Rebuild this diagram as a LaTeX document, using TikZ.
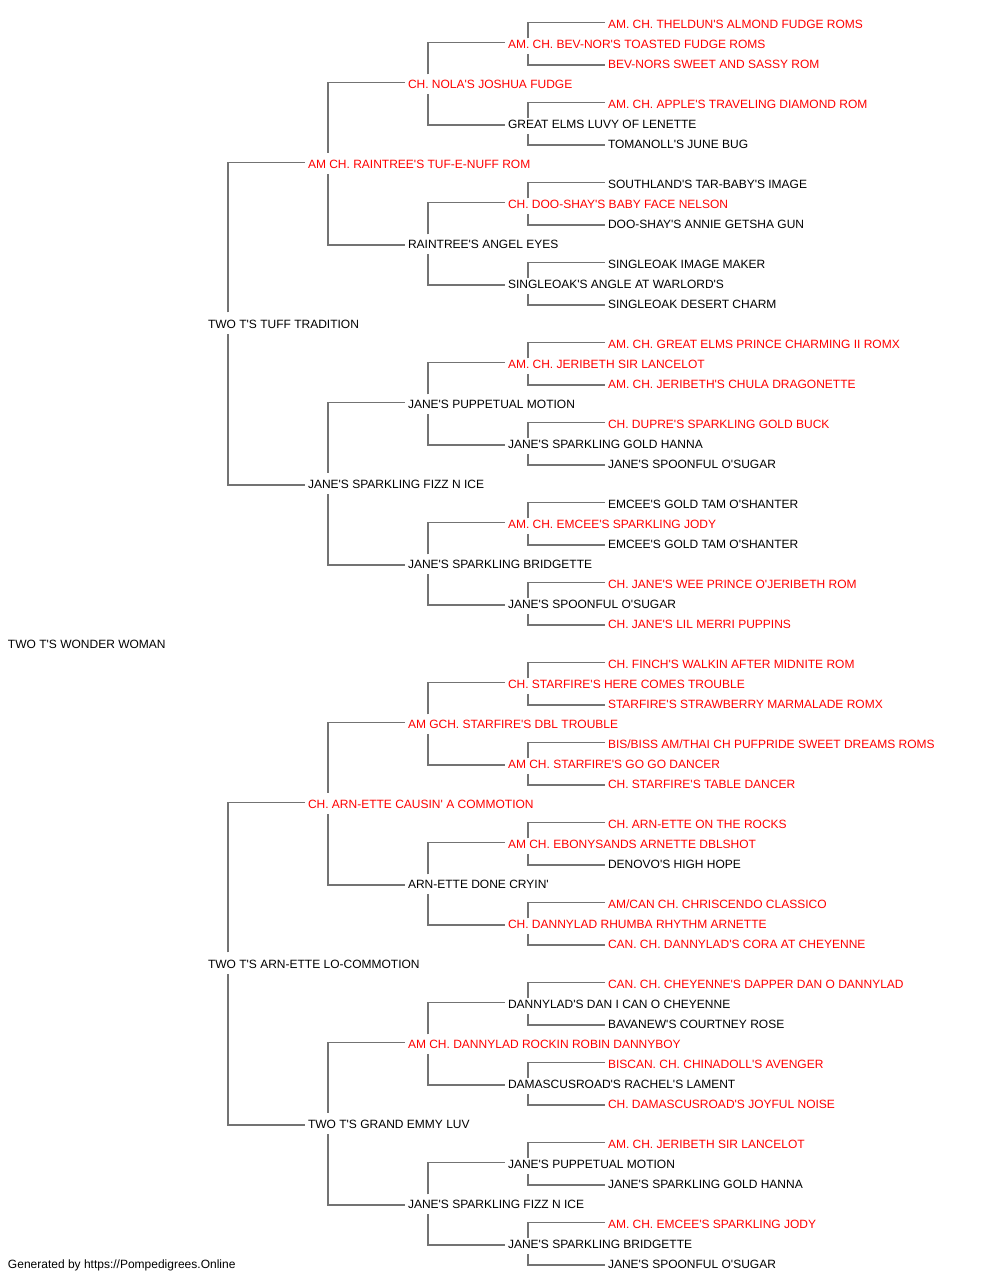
\documentclass[tikz,border=0pt]{standalone}
\usepackage{fontspec}
\setmainfont{Liberation Sans}[Ligatures=TeXOff]
\definecolor{linegray}{RGB}{115,115,115}
\definecolor{chred}{RGB}{255,0,0}
\begin{document}
\begin{tikzpicture}[x=1pt,y=1pt,
  nm/.style={anchor=base west, inner sep=0pt, outer sep=0pt, font=\fontsize{12}{14}\selectfont, text=black},
  ch/.style={nm, text=chred},
  conn/.style={draw=linegray, line width=1.6pt}]
\useasboundingbox[fill=white] (0,0) rectangle (1000,-1280);
% rows
\node[ch] (n0) at (608,-28) {AM. CH. THELDUN'S ALMOND FUDGE ROMS};
\node[ch] (n1) at (508,-48) {AM. CH. BEV-NOR'S TOASTED FUDGE ROMS};
\node[ch] (n2) at (608,-68) {BEV-NORS SWEET AND SASSY ROM};
\node[ch] (n3) at (408,-88) {CH. NOLA'S JOSHUA FUDGE};
\node[ch] (n4) at (608,-108) {AM. CH. APPLE'S TRAVELING DIAMOND ROM};
\node[nm] (n5) at (508,-128) {GREAT ELMS LUVY OF LENETTE};
\node[nm] (n6) at (608,-148) {TOMANOLL'S JUNE BUG};
\node[ch] (n7) at (308,-168) {AM CH. RAINTREE'S TUF-E-NUFF ROM};
\node[nm] (n8) at (608,-188) {SOUTHLAND'S TAR-BABY'S IMAGE};
\node[ch] (n9) at (508,-208) {CH. DOO-SHAY'S BABY FACE NELSON};
\node[nm] (n10) at (608,-228) {DOO-SHAY'S ANNIE GETSHA GUN};
\node[nm] (n11) at (408,-248) {RAINTREE'S ANGEL EYES};
\node[nm] (n12) at (608,-268) {SINGLEOAK IMAGE MAKER};
\node[nm] (n13) at (508,-288) {SINGLEOAK'S ANGLE AT WARLORD'S};
\node[nm] (n14) at (608,-308) {SINGLEOAK DESERT CHARM};
\node[nm] (n15) at (208,-328) {TWO T'S TUFF TRADITION};
\node[ch] (n16) at (608,-348) {AM. CH. GREAT ELMS PRINCE CHARMING II ROMX};
\node[ch] (n17) at (508,-368) {AM. CH. JERIBETH SIR LANCELOT};
\node[ch] (n18) at (608,-388) {AM. CH. JERIBETH'S CHULA DRAGONETTE};
\node[nm] (n19) at (408,-408) {JANE'S PUPPETUAL MOTION};
\node[ch] (n20) at (608,-428) {CH. DUPRE'S SPARKLING GOLD BUCK};
\node[nm] (n21) at (508,-448) {JANE'S SPARKLING GOLD HANNA};
\node[nm] (n22) at (608,-468) {JANE'S SPOONFUL O'SUGAR};
\node[nm] (n23) at (308,-488) {JANE'S SPARKLING FIZZ N ICE};
\node[nm] (n24) at (608,-508) {EMCEE'S GOLD TAM O'SHANTER};
\node[ch] (n25) at (508,-528) {AM. CH. EMCEE'S SPARKLING JODY};
\node[nm] (n26) at (608,-548) {EMCEE'S GOLD TAM O'SHANTER};
\node[nm] (n27) at (408,-568) {JANE'S SPARKLING BRIDGETTE};
\node[ch] (n28) at (608,-588) {CH. JANE'S WEE PRINCE O'JERIBETH ROM};
\node[nm] (n29) at (508,-608) {JANE'S SPOONFUL O'SUGAR};
\node[ch] (n30) at (608,-628) {CH. JANE'S LIL MERRI PUPPINS};
\node[nm] (n31) at (8,-648) {TWO T'S WONDER WOMAN};
\node[ch] (n32) at (608,-668) {CH. FINCH'S WALKIN AFTER MIDNITE ROM};
\node[ch] (n33) at (508,-688) {CH. STARFIRE'S HERE COMES TROUBLE};
\node[ch] (n34) at (608,-708) {STARFIRE'S STRAWBERRY MARMALADE ROMX};
\node[ch] (n35) at (408,-728) {AM GCH. STARFIRE'S DBL TROUBLE};
\node[ch] (n36) at (608,-748) {BIS/BISS AM/THAI CH PUFPRIDE SWEET DREAMS ROMS};
\node[ch] (n37) at (508,-768) {AM CH. STARFIRE'S GO GO DANCER};
\node[ch] (n38) at (608,-788) {CH. STARFIRE'S TABLE DANCER};
\node[ch] (n39) at (308,-808) {CH. ARN-ETTE CAUSIN' A COMMOTION};
\node[ch] (n40) at (608,-828) {CH. ARN-ETTE ON THE ROCKS};
\node[ch] (n41) at (508,-848) {AM CH. EBONYSANDS ARNETTE DBLSHOT};
\node[nm] (n42) at (608,-868) {DENOVO'S HIGH HOPE};
\node[nm] (n43) at (408,-888) {ARN-ETTE DONE CRYIN'};
\node[ch] (n44) at (608,-908) {AM/CAN CH. CHRISCENDO CLASSICO};
\node[ch] (n45) at (508,-928) {CH. DANNYLAD RHUMBA RHYTHM ARNETTE};
\node[ch] (n46) at (608,-948) {CAN. CH. DANNYLAD'S CORA AT CHEYENNE};
\node[nm] (n47) at (208,-968) {TWO T'S ARN-ETTE LO-COMMOTION};
\node[ch] (n48) at (608,-988) {CAN. CH. CHEYENNE'S DAPPER DAN O DANNYLAD};
\node[nm] (n49) at (508,-1008) {DANNYLAD'S DAN I CAN O CHEYENNE};
\node[nm] (n50) at (608,-1028) {BAVANEW'S COURTNEY ROSE};
\node[ch] (n51) at (408,-1048) {AM CH. DANNYLAD ROCKIN ROBIN DANNYBOY};
\node[ch] (n52) at (608,-1068) {BISCAN. CH. CHINADOLL'S AVENGER};
\node[nm] (n53) at (508,-1088) {DAMASCUSROAD'S RACHEL'S LAMENT};
\node[ch] (n54) at (608,-1108) {CH. DAMASCUSROAD'S JOYFUL NOISE};
\node[nm] (n55) at (308,-1128) {TWO T'S GRAND EMMY LUV};
\node[ch] (n56) at (608,-1148) {AM. CH. JERIBETH SIR LANCELOT};
\node[nm] (n57) at (508,-1168) {JANE'S PUPPETUAL MOTION};
\node[nm] (n58) at (608,-1188) {JANE'S SPARKLING GOLD HANNA};
\node[nm] (n59) at (408,-1208) {JANE'S SPARKLING FIZZ N ICE};
\node[ch] (n60) at (608,-1228) {AM. CH. EMCEE'S SPARKLING JODY};
\node[nm] (n61) at (508,-1248) {JANE'S SPARKLING BRIDGETTE};
\node[nm] (n62) at (608,-1268) {JANE'S SPOONFUL O'SUGAR};
\node[nm] (footer) at (8,-1268) {Generated by https://Pompedigrees.Online};
% connectors: level 4 (children at +-1)
\foreach \p in {1,5,...,61}{
  \pgfmathtruncatemacro\s{\p-1}\pgfmathtruncatemacro\d{\p+1}
  \draw[conn] ([xshift=20pt,yshift=9.7pt]n\p.base west) |- ([xshift=-3pt,yshift=5.7pt]n\s.base west);
  \draw[conn] ([xshift=20pt,yshift=-6.3pt]n\p.base west) |- ([xshift=-3pt,yshift=3.2pt]n\d.base west);
}
% level 3 (children at +-2)
\foreach \p in {3,11,...,59}{
  \pgfmathtruncatemacro\s{\p-2}\pgfmathtruncatemacro\d{\p+2}
  \draw[conn] ([xshift=20pt,yshift=13.7pt]n\p.base west) |- ([xshift=-3pt,yshift=5.7pt]n\s.base west);
  \draw[conn] ([xshift=20pt,yshift=-6.3pt]n\p.base west) |- ([xshift=-3pt,yshift=3.2pt]n\d.base west);
}
% level 2 (children at +-4)
\foreach \p in {7,23,39,55}{
  \pgfmathtruncatemacro\s{\p-4}\pgfmathtruncatemacro\d{\p+4}
  \draw[conn] ([xshift=20pt,yshift=15.2pt]n\p.base west) |- ([xshift=-3pt,yshift=5.7pt]n\s.base west);
  \draw[conn] ([xshift=20pt,yshift=-6.3pt]n\p.base west) |- ([xshift=-3pt,yshift=3.2pt]n\d.base west);
}
% level 1 (children at +-8)
\foreach \p in {15,47}{
  \pgfmathtruncatemacro\s{\p-8}\pgfmathtruncatemacro\d{\p+8}
  \draw[conn] ([xshift=20pt,yshift=15.7pt]n\p.base west) |- ([xshift=-3pt,yshift=5.7pt]n\s.base west);
  \draw[conn] ([xshift=20pt,yshift=-6.3pt]n\p.base west) |- ([xshift=-3pt,yshift=3.2pt]n\d.base west);
}
\end{tikzpicture}
\end{document}
